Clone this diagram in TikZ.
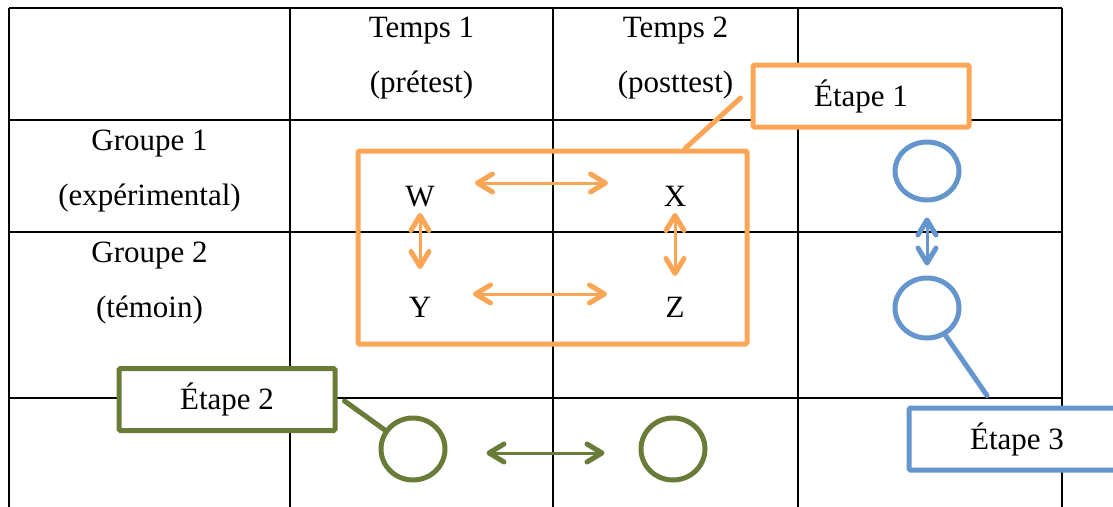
\documentclass[tikz,border=0pt]{standalone}
\usepackage{fontspec}
\setmainfont{Liberation Serif}
\usetikzlibrary{arrows.meta,calc,shapes.geometric}
\definecolor{oran}{RGB}{250,166,86}
\definecolor{blu}{RGB}{100,150,205}
\definecolor{grn}{RGB}{104,124,56}
\begin{document}
\begin{tikzpicture}[x=1pt,y=-1pt,
  grid/.style={line width=2.5pt, black},
  txt/.style={anchor=base, inner sep=0pt, font=\fontsize{31}{37}\selectfont},
  lbl/.style={draw, line width=5pt, fill=white, minimum width=216pt, minimum height=62pt, inner sep=0pt, rounded corners=1.5pt, font=\fontsize{31}{37}\selectfont},
  circ/.style={draw, ellipse, line width=5pt, minimum width=64pt, minimum height=60pt, inner sep=0pt},
  tipb/.tip={Straight Barb[length=15pt,width=18pt,line width=5pt,round]},
  dbl/.style={line width=3pt, tipb-tipb},
  callout/.style={line width=5pt, line cap=round}
]
\useasboundingbox (0,0) rectangle (1113,506);
\clip (0,0) rectangle (1113,506);
% table
\foreach \x in {9,290,553,798,1062} \draw[grid] (\x,8) -- (\x,520);
\foreach \y in {8,120,232,398} \draw[grid] (9,\y) -- (1062,\y);
% headers
\node[txt] (t1a) at (421.5,37) {Temps 1};
\node[txt] (t1b) at (421.5,92) {(prétest)};
\node[txt] (t2a) at (675.5,37) {Temps 2};
\node[txt] (t2b) at (675.5,92) {(posttest)};
\node[txt] (g1a) at (149.5,150) {Groupe 1};
\node[txt] (g1b) at (149.5,205) {(expérimental)};
\node[txt] (g2a) at (149.5,262) {Groupe 2};
\node[txt] (g2b) at (149.5,317) {(témoin)};
% step 1
\node[draw=oran, line width=5pt, rounded corners=1.5pt, minimum width=389pt, minimum height=193pt, inner sep=0pt] (frame) at (552.5,247.5) {};
\node[txt] (W) at (420,206) {W};
\node[txt] (X) at (675,206) {X};
\node[txt] (Y) at (420,317) {Y};
\node[txt] (Z) at (675,317) {Z};
\draw[dbl, oran] ($(W.base)+(55,-23)$) -- ($(X.base)+(-67,-23)$);
\draw[dbl, oran] ($(Y.base)+(53,-23)$) -- ($(Z.base)+(-68,-23)$);
\draw[dbl, oran] ($(W.base)+(0,7)$) -- ($(Y.base)+(0,-48)$);
\draw[dbl, oran] ($(X.base)+(0,7)$) -- ($(Z.base)+(0,-41)$);
% step 3
\node[circ, draw=blu, minimum height=58pt] (b1) at (927,171) {};
\node[circ, draw=blu] (b2) at (927,308) {};
\draw[dbl, blu] ($(b1.south)+(0,15)$) -- ($(b2.north)+(0,-10)$);
% step 2
\node[circ, draw=grn, minimum height=62pt] (c1) at (413,449) {};
\node[circ, draw=grn, minimum height=62pt] (c2) at (673,449) {};
\draw[dbl, grn] ($(c1.east)+(39,4)$) -- ($(c2.west)+(-34,4)$);
% labels
\node[lbl, draw=oran] (e1) at (861,96) {Étape 1};
\node[lbl, draw=grn] (e2) at (227,399.5) {Étape 2};
\node[lbl, draw=blu] (e3) at (1017,439) {Étape 3};
\draw[callout, oran] ([xshift=132.5pt]frame.north) -- ([xshift=-10pt,yshift=-2pt]e1.west);
\draw[callout, grn] (c1.146) -- ([xshift=7pt,yshift=-1.5pt]e2.east);
\draw[callout, blu] (b2.-56) -- ([xshift=-30pt,yshift=10pt]e3.north);
\end{tikzpicture}
\end{document}
